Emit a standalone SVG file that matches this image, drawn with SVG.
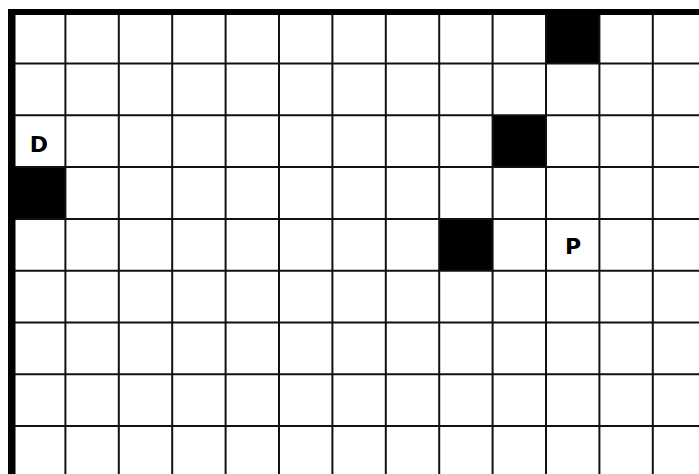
<svg xmlns="http://www.w3.org/2000/svg" width="699" height="474" viewBox="0 0 699 474">
<style>
.g line{stroke:#111;stroke-width:2}
.f{fill:#000}
.t{font-family:"DejaVu Sans",sans-serif;font-weight:bold;font-size:22px;fill:#000;text-anchor:middle}
</style>
<rect width="699" height="474" fill="#fff"/>
<g id="filled">
<rect class="f" x="546" y="12" width="53.4" height="51.5"/>
<rect class="f" x="492.6" y="115.3" width="53.4" height="51.8"/>
<rect class="f" x="12" y="167.1" width="53.4" height="51.8"/>
<rect class="f" x="439.2" y="218.9" width="53.4" height="51.8"/>
</g>
<g class="g" id="grid">
<line x1="65.4" y1="12" x2="65.4" y2="474"/>
<line x1="118.8" y1="12" x2="118.8" y2="474"/>
<line x1="172.2" y1="12" x2="172.2" y2="474"/>
<line x1="225.6" y1="12" x2="225.6" y2="474"/>
<line x1="279" y1="12" x2="279" y2="474"/>
<line x1="332.4" y1="12" x2="332.4" y2="474"/>
<line x1="385.8" y1="12" x2="385.8" y2="474"/>
<line x1="439.2" y1="12" x2="439.2" y2="474"/>
<line x1="492.6" y1="12" x2="492.6" y2="474"/>
<line x1="546" y1="12" x2="546" y2="474"/>
<line x1="599.4" y1="12" x2="599.4" y2="474"/>
<line x1="652.8" y1="12" x2="652.8" y2="474"/>
<line x1="12" y1="63.5" x2="699" y2="63.5"/>
<line x1="12" y1="115.3" x2="699" y2="115.3"/>
<line x1="12" y1="167.1" x2="699" y2="167.1"/>
<line x1="12" y1="218.9" x2="699" y2="218.9"/>
<line x1="12" y1="270.7" x2="699" y2="270.7"/>
<line x1="12" y1="322.5" x2="699" y2="322.5"/>
<line x1="12" y1="374.3" x2="699" y2="374.3"/>
<line x1="12" y1="426.1" x2="699" y2="426.1"/>
</g>
<g id="border">
<rect x="8" y="12" width="7.5" height="462" fill="#000"/>
<rect x="8" y="9" width="691" height="6" fill="#000"/>
</g>
<g id="labels">
<text class="t" x="39" y="152">D</text>
<text class="t" x="573" y="254">P</text>
</g>
</svg>
